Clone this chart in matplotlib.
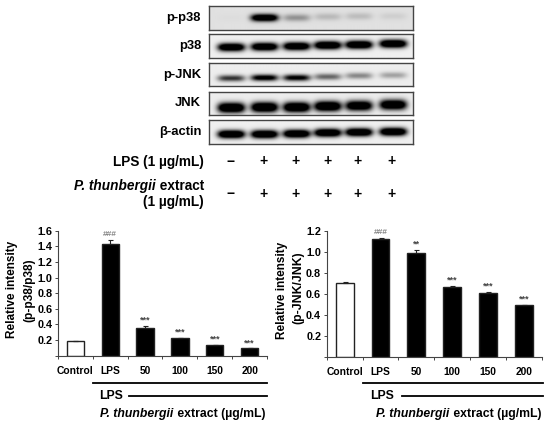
"""
Western blot panels and densitometry bars for P. thunbergii extract
"""

import numpy as np
import matplotlib
matplotlib.use('Agg')
import matplotlib.pyplot as plt

plt.rcParams['font.family'] = ['Liberation Sans', 'DejaVu Sans']
plt.rcParams['font.weight'] = 'bold'

W, H = 550, 424

# blots: band strength (0-1) per lane, and band centre in px from the top of the figure
blot_names = ['p-p38', 'p38', 'p-JNK', 'JNK', 'β-actin']
lane_x = [231, 264, 296, 327, 358, 392]
p_p38_bands = [0.01, 0.95, 0.22, 0.11, 0.10, 0.05]
p38_bands = [0.95, 0.95, 0.95, 1.0, 1.0, 1.0]
p_jnk_bands = [0.50, 0.72, 0.68, 0.36, 0.27, 0.20]
jnk_bands = [1.0, 1.0, 1.0, 1.0, 0.92, 0.95]
actin_bands = [1.0, 1.0, 1.0, 1.0, 1.0, 1.0]
p_p38_y = [17.5, 17.5, 17.5, 16.5, 16, 16]
p38_y = [47, 46.5, 46, 45, 44.5, 43.5]
p_jnk_y = [78, 77.5, 77.5, 76.5, 75.5, 75]
jnk_y = [107.5, 107, 107, 106, 105.5, 104.5]
actin_y = [134, 134, 133.5, 132.5, 132, 131.5]
blot_tops = [6, 34, 63, 92, 120]
blot_bottoms = [30, 58, 86, 115, 144]
blot_bg = [0.88, 0.94, 0.93, 0.93, 0.94]
blot_thick = [3.6, 4.0, 3.2, 5.0, 4.0]

lps_signs = ['−', '+', '+', '+', '+', '+']
extract_signs = ['−', '+', '+', '+', '+', '+']

# bars
groups = ['Control', 'LPS', '50', '100', '150', '200']
p38_vals = [0.18, 1.43, 0.35, 0.22, 0.13, 0.09]
p38_err = [0.006, 0.05, 0.03, 0.006, 0.01, 0.004]
p38_marks = ['', '###', '***', '***', '***', '***']
jnk_vals = [0.70, 1.12, 0.99, 0.66, 0.61, 0.49]
jnk_err = [0.01, 0.012, 0.025, 0.012, 0.004, 0.007]
jnk_marks = ['', '###', '**', '***', '***', '***']
p38_ticks = [0, 0.2, 0.4, 0.6, 0.8, 1.0, 1.2, 1.4, 1.6]
jnk_ticks = [0, 0.2, 0.4, 0.6, 0.8, 1.0, 1.2]


def add_ax(left, top, right, bottom, **kw):
    return fig.add_axes([left/W, 1-bottom/H, (right-left)/W, (bottom-top)/H], **kw)


def txt(x, y, s, **kw):
    kw.setdefault('ha', 'center')
    kw.setdefault('va', 'center')
    return over.text(x, y, s, **kw)


def mixed(right, y, size, rest):
    # italic name and upright remainder share one line, right aligned
    t = txt(right, y, rest, ha='right', fontsize=size)
    box = t.get_window_extent(fig.canvas.get_renderer())
    txt(box.x0*W/fig.bbox.width, y, 'P. thunbergii', ha='right', fontsize=size, style='italic')


def draw_blot(i, bands, ys):
    top, bottom = blot_tops[i], blot_bottoms[i]
    ax = add_ax(209, top, 413, bottom)
    xx, yy = np.meshgrid(np.arange(209, 413, 0.5), np.arange(top, bottom, 0.5))
    dark = np.zeros_like(xx)
    for lane, s, yc in zip(lane_x, bands, ys):
        edge = np.exp(-((xx-lane)/13.5)**4)
        dark += s*edge*np.exp(-((yy-yc)/blot_thick[i])**2)*1.6
    img = blot_bg[i]*(1-np.clip(dark, 0, 1))
    ax.imshow(img, cmap='gray', vmin=0, vmax=1, aspect='auto', extent=[209, 413, bottom, top])
    ax.set_xticks([])
    ax.set_yticks([])
    for sp in ax.spines.values():
        sp.set_linewidth(1.0)
        sp.set_color('#444444')


def draw_bars(ax, vals, errs, marks, ticks, ymax, mark_gap):
    x = np.arange(len(groups))
    colors = ['white'] + ['black']*5
    ax.bar(x, vals, width=0.5, color=colors, edgecolor='#222222', linewidth=1.0,
           yerr=[np.zeros(len(errs)), errs], ecolor='#222222',
           error_kw={'elinewidth': 0.8, 'capsize': 1.8, 'capthick': 0.8})
    for xi, v, e, m in zip(x, vals, errs, marks):
        col = '#888888' if m.startswith('#') else '#444444'
        size = 6 if m.startswith('#') else 6.5
        ax.text(xi, v+e+mark_gap, m, ha='center', va='center', fontsize=size, color=col)
    ax.set_xlim(-0.5, 5.5)
    ax.set_ylim(0, ymax)
    ax.set_xticks(np.arange(-0.5, 6, 1))
    ax.set_xticklabels([])
    ax.set_xticks(x, minor=True)
    ax.set_xticklabels(groups, minor=True, fontsize=7.4)
    ax.tick_params(axis='x', which='major', length=2, width=0.7, color='#444444')
    ax.tick_params(axis='x', which='minor', length=0, pad=7.5)
    ax.set_yticks(ticks)
    ax.set_yticklabels([''] + ['%.1f' % t for t in ticks[1:]], fontsize=7.8)
    ax.tick_params(axis='y', length=2, width=0.7, pad=2, color='#444444')
    ax.spines['top'].set_visible(False)
    ax.spines['right'].set_visible(False)
    ax.spines['left'].set_linewidth(0.8)
    ax.spines['bottom'].set_linewidth(0.8)
    ax.spines['left'].set_color('#444444')
    ax.spines['bottom'].set_color('#444444')


fig = plt.figure(figsize=(W/100, H/100), dpi=100)
fig.canvas.get_renderer()

over = fig.add_axes([0, 0, 1, 1], zorder=5)
over.set_xlim(0, W)
over.set_ylim(H, 0)
over.axis('off')

all_bands = [p_p38_bands, p38_bands, p_jnk_bands, jnk_bands, actin_bands]
all_y = [p_p38_y, p38_y, p_jnk_y, jnk_y, actin_y]
label_y = [18, 46.5, 75, 103, 132]
for i in range(5):
    draw_blot(i, all_bands[i], all_y[i])
    txt(201, label_y[i], blot_names[i], ha='right', fontsize=9.4)

txt(204, 162, 'LPS (1 µg/mL)', ha='right', fontsize=9.8)
mixed(204, 186, 9.8, ' extract')
txt(204, 202, '(1 µg/mL)', ha='right', fontsize=9.8)
for lx, a, b in zip(lane_x, lps_signs, extract_signs):
    txt(lx, 161.5, a, fontsize=10)
    txt(lx, 194, b, fontsize=10)

ax1 = add_ax(58, 230.7, 267, 355.5)
draw_bars(ax1, p38_vals, p38_err, p38_marks, p38_ticks, 1.6, 0.07)
ax2 = add_ax(326.7, 230.7, 542, 356.7)
draw_bars(ax2, jnk_vals, jnk_err, jnk_marks, jnk_ticks, 1.2, 0.055)

txt(12, 289, 'Relative intensity', rotation=90, fontsize=8.5)
txt(29, 290, '(p-p38/p38)', rotation=90, fontsize=8.6)
txt(282, 290, 'Relative intensity', rotation=90, fontsize=8.5)
txt(298, 287.5, '(p-JNK/JNK)', rotation=90, fontsize=8.8)

# dose brackets under the bars
over.plot([93, 267], [383, 383], color='black', lw=1.3)
over.plot([129, 267], [395.7, 395.7], color='black', lw=1.3)
txt(111, 396, 'LPS', fontsize=8.8)
mixed(265, 414, 8.8, ' extract (µg/mL)')
over.plot([363, 543], [383, 383], color='black', lw=1.3)
over.plot([402, 543], [395.7, 395.7], color='black', lw=1.3)
txt(382, 396, 'LPS', fontsize=8.8)
mixed(541, 414, 8.8, ' extract (µg/mL)')

fig.savefig('out.png', dpi=100)
